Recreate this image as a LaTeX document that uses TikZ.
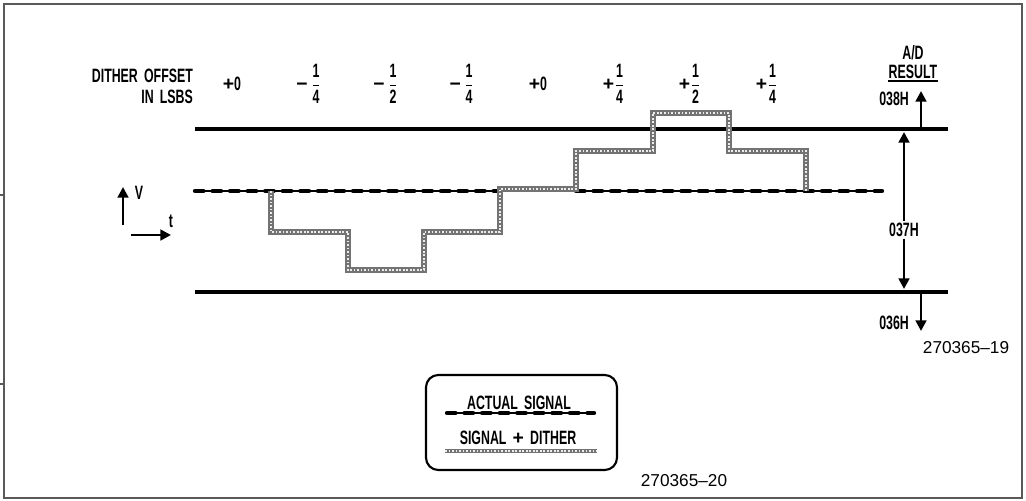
\documentclass[tikz,border=0pt]{standalone}
\usepackage{amsmath}
\usepackage{fontspec}
\setmainfont{Liberation Sans Bold}[FakeStretch=0.64, WordSpace=1.8]
\newfontfamily\figfont{Liberation Sans}
\newfontfamily\signfont{Liberation Sans Bold}
\usetikzlibrary{arrows.meta}
\usetikzlibrary{calc}

\newcommand{\lsbfrac}[2]{$\dfrac{\text{#1}}{\text{#2}}$}
\newcommand{\plussign}{{\signfont +}}
\newcommand{\minussign}{{\signfont −}\hspace{1.5pt}}

\tikzset{
  lbl/.style={font=\fontsize{11}{12}\selectfont, inner sep=1pt},
  figno/.style={font=\figfont\fontsize{9.8}{11}\selectfont, inner sep=1pt},
  frame/.style={draw=black!65, line width=1.1pt},
  level/.style={line width=2.3pt},
  actual/.style={line width=2.5pt, line cap=round, dash pattern=on 4.8pt off 5.2pt,
    preaction={draw, line width=0.7pt, solid}},
  dither/.style={draw=black!55, line width=2.9pt,
    postaction={draw=gray!15, line width=1pt, dash pattern=on 1pt off 1pt}},
  arr/.style={line width=1.5pt, -{Triangle[length=6pt,width=6pt]}},
}

\begin{document}
\begin{tikzpicture}[x=0.02cm,y=-0.02cm]

  % page of the reference
  \useasboundingbox (0,0) rectangle (1026,500);
  \draw[frame] (4,4) rectangle (1022,498);
  \draw[frame] (0,195) -- (4,195);
  \draw[frame] (0,384) -- (4,384);

  % boundaries between two A/D results
  \coordinate (U1) at (195,129);
  \coordinate (U2) at (948,129);
  \coordinate (L1) at (195,292);
  \coordinate (L2) at (948,292);
  \draw[level] (U1) -- (U2);
  \draw[level] (L1) -- (L2);

  % actual signal
  \coordinate (S1) at (195,191);
  \coordinate (S2) at (500,191);
  \coordinate (S3) at (576,191);
  \coordinate (S4) at (882,191);
  \draw[actual] (S1) -- (S2);
  \draw[actual] (S3) -- (S4);

  % signal + dither (steps of 1/4 LSB)
  \draw[dither] (271,191) |- (348,232) |- (424,270) |- (500,232) |- (576,189)
    |- (653,151) |- (729,113) |- (806,151) -- (806,191);

  % dither offsets
  \node[lbl, align=right, anchor=east] (dtitle) at (195,86) {DITHER OFFSET\\IN LSBS};
  \foreach \x/\t [count=\i] in {232/{\plussign0}, 309/{\minussign\lsbfrac{1}{4}},
      386/{\minussign\lsbfrac{1}{2}}, 462/{\minussign\lsbfrac{1}{4}},
      538/{\plussign0}, 614/{\plussign\lsbfrac{1}{4}},
      690/{\plussign\lsbfrac{1}{2}}, 767/{\plussign\lsbfrac{1}{4}}}
    \node[lbl] (off\i) at (\x,84) {\t};

  % axes
  \coordinate (V0) at (123,225);
  \coordinate (V1) at (123,187);
  \coordinate (T0) at (131,235);
  \coordinate (T1) at (171,235);
  \draw[arr] (V0) -- (V1);
  \draw[arr] (T0) -- (T1);
  \node[lbl] (vlab) at (139,193) {V};
  \node[lbl] (tlab) at (171,221) {t};

  % A/D result
  \node[lbl] (ad) at (913,53) {A/D};
  \node[lbl] (res) at (913,72) {RESULT};
  \coordinate (R1) at (888,81);
  \coordinate (R2) at (938,81);
  \draw[line width=0.8pt] (R1) -- (R2);

  \node[lbl, anchor=east] (r38) at (911,99) {038H};
  \coordinate (A38) at (921,129);
  \coordinate (B38) at (921,91);
  \draw[arr] (A38) -- (B38);

  \node[lbl, fill=white] (r37) at (904,230) {037H};
  \coordinate (T37) at (904,132);
  \coordinate (B37) at (904,289);
  \draw[arr] (r37.north) -- (T37);
  \draw[arr] (r37.south) -- (B37);

  \node[lbl, anchor=east] (r36) at (911,323) {036H};
  \coordinate (A36) at (921,292);
  \coordinate (B36) at (921,331);
  \draw[arr] (A36) -- (B36);

  \node[figno] (fig19) at (966,348) {270365–19};

  % legend
  \draw[line width=1.2pt, rounded corners=7pt] (426,375) rectangle (617,470);
  \node[lbl] (leg1) at (519,403) {ACTUAL SIGNAL};
  \coordinate (E1) at (447,413);
  \coordinate (E2) at (594,413);
  \draw[actual] (E1) -- (E2);
  \node[lbl] (leg2) at (518,438) {SIGNAL \plussign{} DITHER};
  \coordinate (F1) at (445,451);
  \coordinate (F2) at (597,451);
  \draw[dither, line width=2.2pt] (F1) -- (F2);

  \node[figno] (fig20) at (684,481) {270365–20};

\end{tikzpicture}
\end{document}
